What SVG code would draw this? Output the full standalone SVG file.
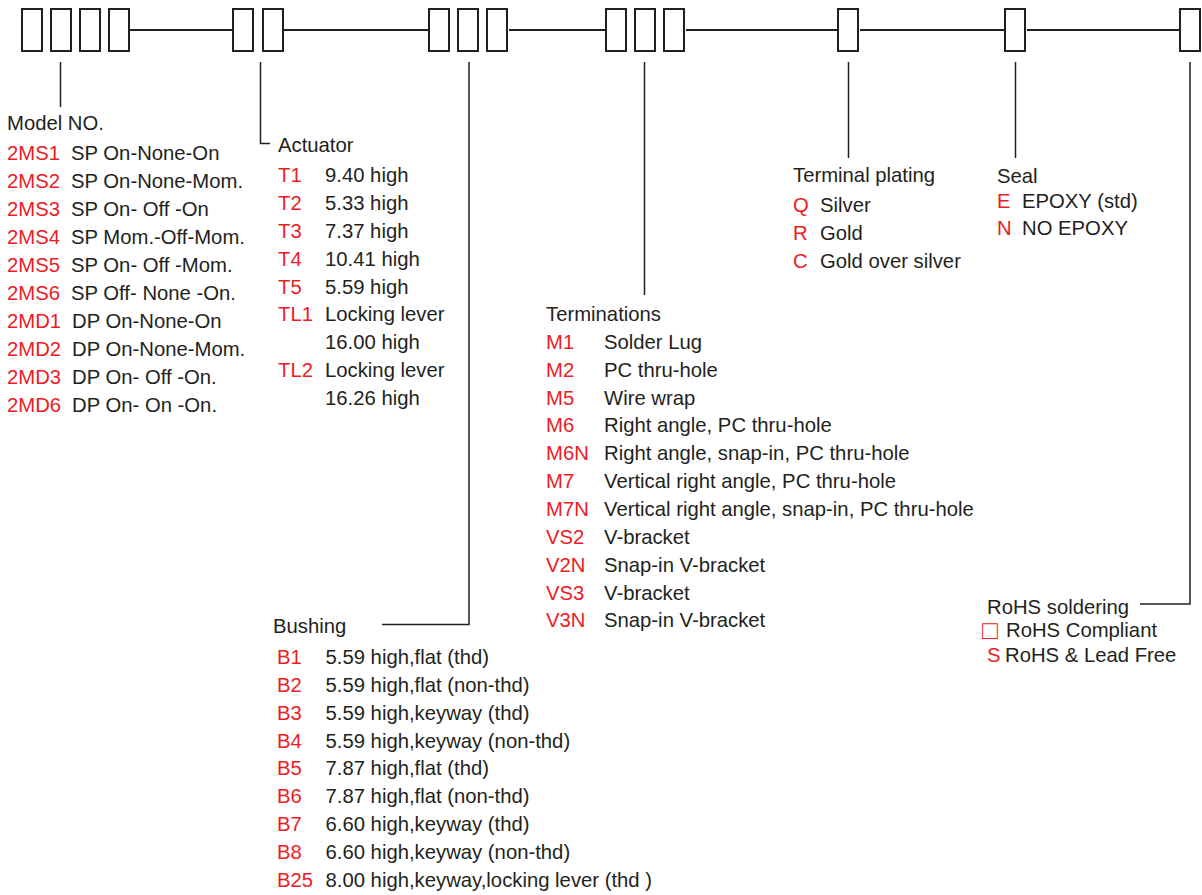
<svg xmlns="http://www.w3.org/2000/svg" width="1202" height="895" viewBox="0 0 1202 895">
<style>
.box{fill:#fff;stroke:#231f20;stroke-width:2}
.main{stroke:#231f20;stroke-width:2;fill:none}
.lead{stroke:#231f20;stroke-width:1.5;fill:none}
text{font-family:"Liberation Sans",Arial,sans-serif;font-size:20.3px;fill:#231f20}
.r{fill:#ed1c24}
</style>
<rect width="1202" height="895" fill="#fff"/>
<g id="connectors">
<path class="main" d="M130,30H233M284,30H429M509,30H606M686,30H838M860,30H1005M1027,30H1180"/>
<path class="lead" d="M60.5,62V107"/>
<path class="lead" d="M260.5,62V143.5H270"/>
<path class="lead" d="M469,62V624.5H382"/>
<path class="lead" d="M644.5,62V295"/>
<path class="lead" d="M848.5,62V158"/>
<path class="lead" d="M1015.5,62V158"/>
<path class="lead" d="M1190,62V604H1140"/>
</g>
<g id="model-boxes">
<rect class="box" x="22" y="9" width="20" height="42"/>
<rect class="box" x="51" y="9" width="20" height="42"/>
<rect class="box" x="80" y="9" width="20" height="42"/>
<rect class="box" x="109" y="9" width="20" height="42"/>
</g>
<g id="actuator-boxes">
<rect class="box" x="233" y="9" width="20" height="42"/>
<rect class="box" x="263" y="9" width="20" height="42"/>
</g>
<g id="bushing-boxes">
<rect class="box" x="429" y="9" width="20" height="42"/>
<rect class="box" x="458" y="9" width="20" height="42"/>
<rect class="box" x="487" y="9" width="20" height="42"/>
</g>
<g id="termination-boxes">
<rect class="box" x="606" y="9" width="20" height="42"/>
<rect class="box" x="635" y="9" width="20" height="42"/>
<rect class="box" x="664" y="9" width="20" height="42"/>
</g>
<g id="plating-box"><rect class="box" x="838" y="9" width="20" height="42"/></g>
<g id="seal-box"><rect class="box" x="1005" y="9" width="20" height="42"/></g>
<g id="rohs-box"><rect class="box" x="1180" y="9" width="20" height="42"/></g>

<g id="model">
<text x="7" y="130">Model NO.</text>
<text class="r" x="7" y="160">2MS1</text><text x="71" y="160">SP On-None-On</text>
<text class="r" x="7" y="188">2MS2</text><text x="71" y="188">SP On-None-Mom.</text>
<text class="r" x="7" y="216">2MS3</text><text x="71" y="216">SP On- Off -On</text>
<text class="r" x="7" y="244">2MS4</text><text x="71" y="244">SP Mom.-Off-Mom.</text>
<text class="r" x="7" y="272">2MS5</text><text x="71" y="272">SP On- Off -Mom.</text>
<text class="r" x="7" y="300">2MS6</text><text x="71" y="300">SP Off- None -On.</text>
<text class="r" x="7" y="328">2MD1</text><text x="72" y="328">DP On-None-On</text>
<text class="r" x="7" y="356">2MD2</text><text x="72" y="356">DP On-None-Mom.</text>
<text class="r" x="7" y="384">2MD3</text><text x="72" y="384">DP On- Off -On.</text>
<text class="r" x="7" y="412">2MD6</text><text x="72" y="412">DP On- On -On.</text>
</g>
<g id="actuator">
<text x="278" y="152">Actuator</text>
<text class="r" x="278" y="182">T1</text><text x="325" y="182">9.40 high</text>
<text class="r" x="278" y="210">T2</text><text x="325" y="210">5.33 high</text>
<text class="r" x="278" y="238">T3</text><text x="325" y="238">7.37 high</text>
<text class="r" x="278" y="266">T4</text><text x="325" y="266">10.41 high</text>
<text class="r" x="278" y="293.5">T5</text><text x="325" y="293.5">5.59 high</text>
<text class="r" x="278" y="321">TL1</text><text x="325" y="321">Locking lever</text>
<text x="325" y="349">16.00 high</text>
<text class="r" x="278" y="377">TL2</text><text x="325" y="377">Locking lever</text>
<text x="325" y="405">16.26 high</text>
</g>
<g id="terminations">
<text x="546" y="321">Terminations</text>
<text class="r" x="546" y="349">M1</text><text x="604" y="349">Solder Lug</text>
<text class="r" x="546" y="377">M2</text><text x="604" y="377">PC thru-hole</text>
<text class="r" x="546" y="404.5">M5</text><text x="604" y="404.5">Wire wrap</text>
<text class="r" x="546" y="432">M6</text><text x="604" y="432">Right angle, PC thru-hole</text>
<text class="r" x="546" y="460">M6N</text><text x="604" y="460">Right angle, snap-in, PC thru-hole</text>
<text class="r" x="546" y="488">M7</text><text x="604" y="488">Vertical right angle, PC thru-hole</text>
<text class="r" x="546" y="516">M7N</text><text x="604" y="516">Vertical right angle, snap-in, PC thru-hole</text>
<text class="r" x="546" y="544">VS2</text><text x="604" y="544">V-bracket</text>
<text class="r" x="546" y="571.5">V2N</text><text x="604" y="571.5">Snap-in V-bracket</text>
<text class="r" x="546" y="599.5">VS3</text><text x="604" y="599.5">V-bracket</text>
<text class="r" x="546" y="627">V3N</text><text x="604" y="627">Snap-in V-bracket</text>
</g>
<g id="bushing">
<text x="273" y="633">Bushing</text>
<text class="r" x="277" y="664">B1</text><text x="325.5" y="664">5.59 high,flat (thd)</text>
<text class="r" x="277" y="692">B2</text><text x="325.5" y="692">5.59 high,flat (non-thd)</text>
<text class="r" x="277" y="720">B3</text><text x="325.5" y="720">5.59 high,keyway (thd)</text>
<text class="r" x="277" y="747.5">B4</text><text x="325.5" y="747.5">5.59 high,keyway (non-thd)</text>
<text class="r" x="277" y="775">B5</text><text x="325.5" y="775">7.87 high,flat (thd)</text>
<text class="r" x="277" y="803">B6</text><text x="325.5" y="803">7.87 high,flat (non-thd)</text>
<text class="r" x="277" y="831">B7</text><text x="325.5" y="831">6.60 high,keyway (thd)</text>
<text class="r" x="277" y="859">B8</text><text x="325.5" y="859">6.60 high,keyway (non-thd)</text>
<text class="r" x="277" y="887">B25</text><text x="325.5" y="887">8.00 high,keyway,locking lever (thd )</text>
</g>
<g id="plating">
<text x="793" y="182">Terminal plating</text>
<text class="r" x="793" y="212">Q</text><text x="820" y="212">Silver</text>
<text class="r" x="793" y="240">R</text><text x="820" y="240">Gold</text>
<text class="r" x="793" y="268">C</text><text x="820" y="268">Gold over silver</text>
</g>
<g id="seal">
<text x="997" y="183">Seal</text>
<text class="r" x="997" y="208">E</text><text x="1022" y="208">EPOXY (std)</text>
<text class="r" x="997" y="235">N</text><text x="1022" y="235">NO EPOXY</text>
</g>
<g id="rohs">
<text x="987" y="614">RoHS soldering</text>
<text class="r" x="982" y="639" style="font-size:26px">□</text><text x="1006" y="637">RoHS Compliant</text>
<text class="r" x="987" y="662">S</text><text x="1005" y="662">RoHS &amp; Lead Free</text>
</g>
</svg>
